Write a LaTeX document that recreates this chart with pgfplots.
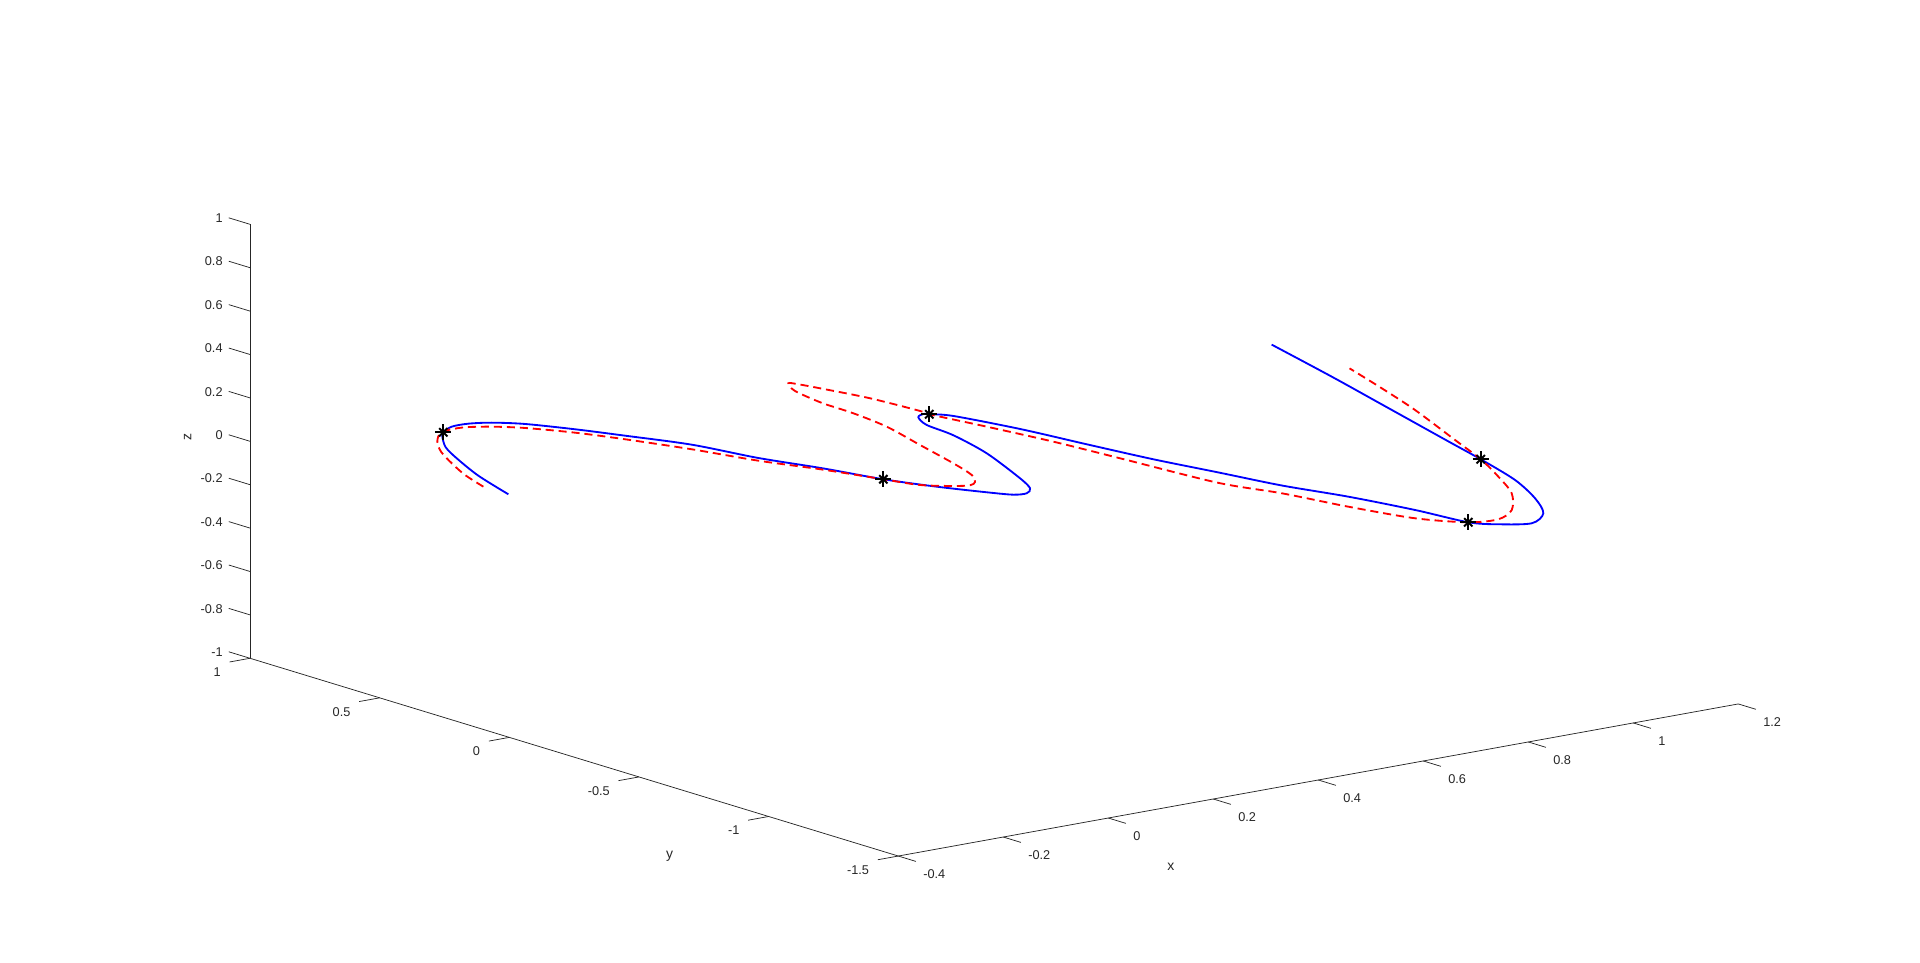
\documentclass[border=0pt]{standalone}
\usepackage{pgfplots}
\pgfplotsset{compat=1.18}
\usepackage{fontspec}
\setmainfont{Liberation Sans}
\definecolor{axc}{rgb}{0.15,0.15,0.15}
\tikzset{tl/.style={font=\fontsize{5.2}{6}\selectfont,text=axc,inner sep=0pt},
         al/.style={font=\fontsize{5.7}{6.5}\selectfont,text=axc,inner sep=0pt}}
\begin{document}
\begin{tikzpicture}
\begin{axis}[hide axis, clip=false,
  x={(214.375pt,38.815pt)}, y={(-105.88pt,32.3pt)}, z={(0pt,88.6pt)},
  xmin=-0.4,xmax=1.2,ymin=-1.5,ymax=1,zmin=-1,zmax=1]
% axis lines
\draw[axc,line width=0.3pt] (axis cs:-0.4,-1.5,-1) -- (axis cs:1.2,-1.5,-1);
\draw[axc,line width=0.3pt] (axis cs:-0.4,1,-1) -- (axis cs:-0.4,-1.5,-1);
\draw[axc,line width=0.3pt] (axis cs:-0.4,1,-1) -- (axis cs:-0.4,1,1);
\pgfplotsinvokeforeach{-0.4,-0.2,0,0.2,0.4,0.6,0.8,1,1.2}{
  \draw[axc,line width=0.3pt] (axis cs:#1,-1.5,-1) -- (axis cs:#1,-1.568,-1);
  \node[tl,anchor=west,xshift=10pt,yshift=-7.5pt] at (axis cs:#1,-1.5,-1) {#1};
}
\pgfplotsinvokeforeach{-1.5,-1,-0.5,0,0.5,1}{
  \draw[axc,line width=0.3pt] (axis cs:-0.4,#1,-1) -- (axis cs:-0.439,#1,-1);
  \node[tl,anchor=east,xshift=-11.75pt,yshift=-5.75pt] at (axis cs:-0.4,#1,-1) {#1};
}
\pgfplotsinvokeforeach{-1,-0.8,-0.6,-0.4,-0.2,0,0.2,0.4,0.6,0.8,1}{
  \draw[axc,line width=0.3pt] (axis cs:-0.4,1,#1) -- (axis cs:-0.4,1.082,#1);
  \node[tl,anchor=east,xshift=-11pt,yshift=2.5pt] at (axis cs:-0.4,1,#1) {#1};
}
\node[al,xshift=-25.5pt,yshift=1.7pt,rotate=90] at (axis cs:-0.4,1,0) {z};
\node[al,xshift=39pt,yshift=-40.3pt] at (axis cs:-0.4,-0.25,-1) {y};
\node[al,xshift=25.5pt,yshift=-20pt] at (axis cs:0,-1.5,-1) {x};
% blue solid
\addplot3[blue, line width=0.75pt, smooth, no markers] coordinates {
(-0.2988,0.2087,0) (-0.2618,0.3993,0) (-0.2195,0.5684,0) (-0.1895,0.6715,0)
(-0.1520,0.7605,0) (-0.1336,0.7940,0) (-0.1016,0.8263,0) (-0.0700,0.8262,0)
(-0.0381,0.8006,0) (-0.0034,0.7424,0) (0.0356,0.6285,0) (0.0703,0.5059,0)
(0.1147,0.3387,0) (0.1422,0.1376,0) (0.1786,-0.0364,0) (0.2082,-0.2110,0)
(0.2430,-0.3464,0) (0.2808,-0.4626,0) (0.3032,-0.5199,0) (0.3247,-0.5280,0)
(0.3483,-0.4931,0) (0.3755,-0.3994,0) (0.4336,-0.1532,0) (0.4643,0.0375,0)
(0.4728,0.1575,0) (0.4929,0.2306,0) (0.5118,0.2496,0) (0.5178,0.2386,0)
(0.5399,0.1906,0) (0.5687,-0.0083,0) (0.5884,-0.2255,0) (0.6093,-0.4402,0)
(0.6351,-0.6355,0) (0.6601,-0.8325,0) (0.6958,-1.0170,0) (0.7234,-1.2183,0)
(0.7389,-1.3924,0) (0.7670,-1.4514,0) (0.8108,-1.4915,0) (0.8638,-1.4288,0)
(0.9127,-1.2979,0) (0.9605,-1.1239,0) (1.0006,-0.9105,0) (1.0320,-0.7219,0)
(1.0974,-0.3327,0) (1.1462,-0.0411,0) (1.2000,0.2998,0)
};
% red dashed
\addplot3[red, line width=0.75pt, smooth, no markers, dash pattern=on 3.3pt off 2pt] coordinates {
(-0.2989,0.3049,0) (-0.2750,0.4240,0) (-0.2450,0.5359,0) (-0.2124,0.6433,0)
(-0.1776,0.7280,0) (-0.1415,0.7907,0) (-0.1186,0.8050,0) (-0.0881,0.8024,0)
(-0.0538,0.7688,0) (-0.0191,0.7107,0) (0.0223,0.6016,0) (0.0562,0.4774,0)
(0.0967,0.3022,0) (0.1316,0.1161,0) (0.1735,-0.0467,0) (0.2082,-0.2110,0)
(0.2297,-0.3089,0) (0.2656,-0.3647,0) (0.2883,-0.3831,0) (0.3072,-0.3641,0)
(0.3307,-0.3039,0) (0.3545,-0.1846,0) (0.3864,0.0084,0) (0.4183,0.2014,0)
(0.4309,0.3557,0) (0.4339,0.4824,0) (0.4486,0.6164,0) (0.4708,0.6871,0)
(0.4788,0.6648,0) (0.4901,0.5943,0) (0.5097,0.4507,0) (0.5197,0.2781,0)
(0.5178,0.2386,0) (0.5379,0.0578,0) (0.5587,-0.1569,0) (0.5734,-0.3844,0)
(0.5943,-0.7180,0) (0.6295,-0.8943,0) (0.6566,-1.0963,0) (0.6909,-1.2841,0)
(0.7389,-1.3924,0) (0.7865,-1.4117,0) (0.8390,-1.3572,0) (0.9044,-1.2247,0)
(0.9535,-1.0738,0) (1.0006,-0.9105,0) (1.0455,-0.7204,0) (1.1152,-0.4250,0)
(1.1605,-0.2050,0) (1.2000,-0.0008,0)
};
% markers
\addplot3[only marks, mark=+, mark size=3.3pt, black, mark options={line width=0.8pt}] coordinates {
(-0.1336,0.7940,0) (0.2082,-0.2110,0) (0.5178,0.2386,0) (1.0006,-0.9105,0) (0.7389,-1.3924,0)};
\addplot3[only marks, mark=x, mark size=2.4pt, black, mark options={line width=0.8pt}] coordinates {
(-0.1336,0.7940,0) (0.2082,-0.2110,0) (0.5178,0.2386,0) (1.0006,-0.9105,0) (0.7389,-1.3924,0)};
\coordinate (O) at (axis cs:-0.4,1,-1);
\end{axis}
\pgfresetboundingbox
\path[use as bounding box] ([shift={(-102.1pt,268.8pt)}]O) rectangle ([shift={(681.9pt,-124.2pt)}]O);
\end{tikzpicture}
\end{document}
